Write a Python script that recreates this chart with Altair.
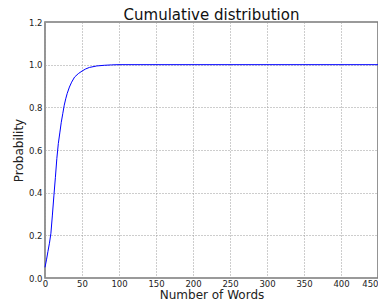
import altair as alt
import pandas as pd

words = [0, 2, 4, 6, 8, 10, 12, 14, 16, 18, 20, 22, 24, 26, 28, 30, 33, 36, 40, 45,
         50, 55, 60, 70, 80, 90, 100, 150, 200, 300, 450]
prob = [0.05, 0.085, 0.125, 0.163, 0.21, 0.295, 0.385, 0.47, 0.56, 0.63, 0.68, 0.73,
        0.77, 0.81, 0.84, 0.865, 0.895, 0.918, 0.942, 0.958, 0.97, 0.98, 0.987, 0.994,
        0.997, 0.999, 1.0, 1.0, 1.0, 1.0, 1.0]

x_ticks = [0, 50, 100, 150, 200, 250, 300, 350, 400, 450]
y_ticks = [0.0, 0.2, 0.4, 0.6, 0.8, 1.0, 1.2]

df = pd.DataFrame({"words": words, "prob": prob})

font = "DejaVu Sans"
W, H = 333, 256

chart = alt.Chart(df).mark_line(color="blue", strokeWidth=1).encode(
    x=alt.X("words:Q", scale=alt.Scale(domain=[0, 450], nice=False),
            axis=alt.Axis(values=x_ticks, title="Number of Words", format="d",
                          grid=True, gridDash=[1, 2], gridColor="#9a9a9a",
                          tickSize=0, labelPadding=1, domain=False,
                          labelAlign={"expr": "datum.value === 450 ? 'right' : 'center'"},
                          labelFont=font, labelFontSize=8.5, labelColor="#222",
                          titleFont=font, titleFontSize=12, titleFontWeight="normal",
                          titleColor="#222", titleX=W / 2, titleY=20,
                          titleBaseline="alphabetic", titleAlign="center")),
    y=alt.Y("prob:Q", scale=alt.Scale(domain=[0, 1.2], nice=False),
            axis=alt.Axis(values=y_ticks, title="Probability", format=".1f",
                          grid=True, gridDash=[1, 2], gridColor="#9a9a9a",
                          tickSize=0, labelPadding=3, domain=False,
                          labelFont=font, labelFontSize=8.5, labelColor="#222",
                          titleFont=font, titleFontSize=12, titleFontWeight="normal",
                          titleColor="#222", titleX=-26.5, titleY=H / 2,
                          titleBaseline="middle", titleAlign="center", titleAngle=270)),
).properties(
    width=W, height=H,
    title=alt.TitleParams("Cumulative distribution", font=font, fontSize=15,
                          fontWeight="normal", color="#111", anchor="middle",
                          offset=0, dy=4.5, frame="group"),
    autosize=alt.AutoSizeParams(type="none"),
    padding={"left": 37, "top": 14, "right": 0, "bottom": 22},
).configure_view(stroke="#7a7a7a", strokeWidth=1.6)

chart.save("out.html", embed_options={"renderer": "svg", "actions": False})
